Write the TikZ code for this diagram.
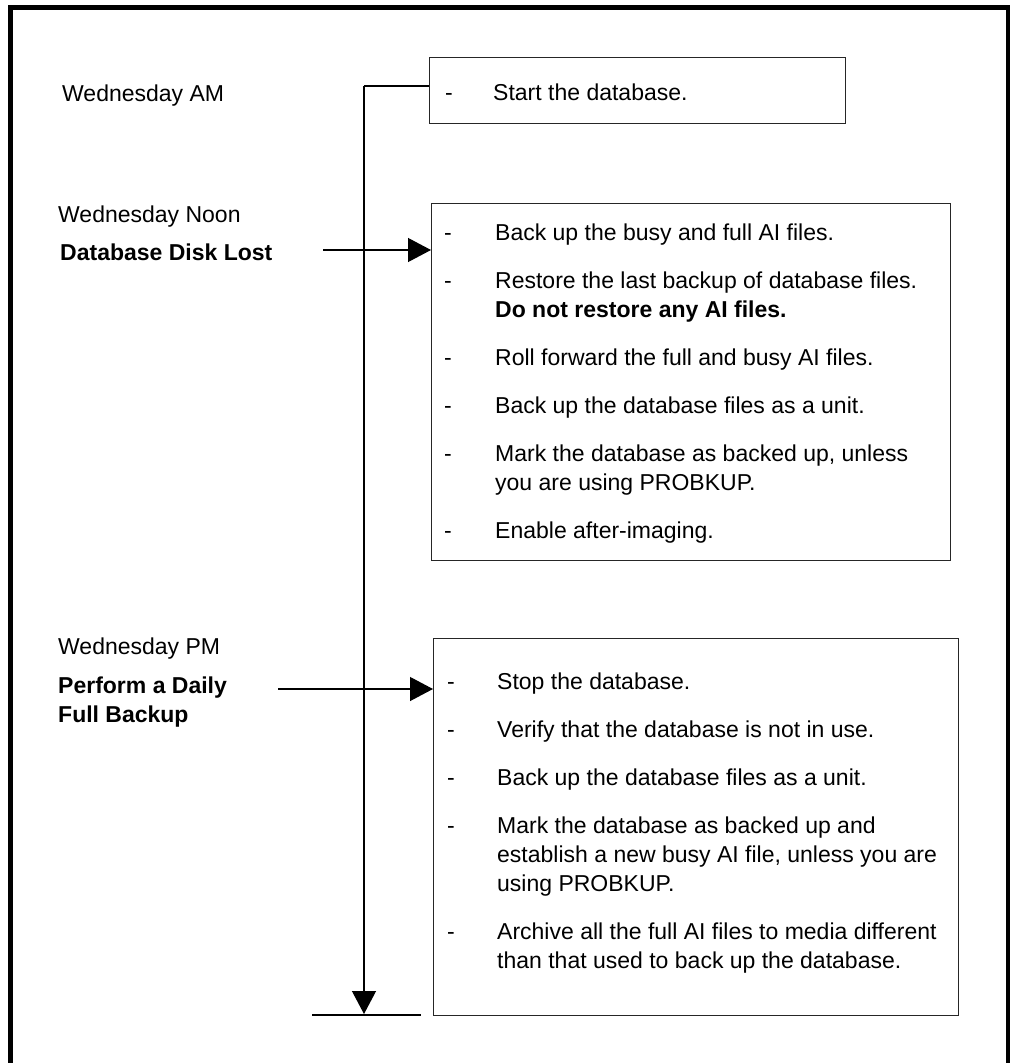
\documentclass[tikz,border=0pt]{standalone}
\usepackage{fontspec}
\setmainfont{Liberation Sans}
\usetikzlibrary{arrows.meta}
\begin{document}
\begin{tikzpicture}[x=1pt,y=-1pt,
  txt/.style={font=\fontsize{23}{29}\selectfont, anchor=base west, inner sep=0pt},
  stepbox/.style={draw=black!85, line width=1.4pt, anchor=north west, inner sep=0pt},
  conn/.style={line width=1.2pt},
  tip/.style={-{Triangle[length=23pt,width=24pt]}}
]
\useasboundingbox (0,0) rectangle (1014,1063);
% outer frame, open past the bottom edge
\draw[line width=4.5pt] (10.5,1080) -- (10.5,7.5) -- (1008,7.5) -- (1008,1080);

% step boxes
\node[stepbox, minimum width=416pt, minimum height=66pt] (box1) at (429,57) {};
\node[stepbox, minimum width=519pt, minimum height=357pt] (box2) at (431,203) {};
\node[stepbox, minimum width=525pt, minimum height=377pt] (box3) at (433,638) {};

% time labels
\node[txt] (tAM) at (62,101) {Wednesday AM};
\node[txt] (tNoon) at (58,222) {Wednesday Noon};
\node[txt] (eNoon) at (60,260.5) {\bfseries Database Disk Lost};
\node[txt] (tPM) at (58,654) {Wednesday PM};
\node[txt] (ePM1) at (58,693) {\bfseries Perform a Daily};
\node[txt] (ePM2) at (58,722) {\bfseries Full Backup};

% box 1
\node[txt] (d10) at (445,100) {-};
\node[txt] (s10) at (493,100) {Start the database.};

% box 2
\node[txt] (d21) at (444,240) {-};
\node[txt] (s21) at (495,240) {Back up the busy and full AI files.};
\node[txt] (d22) at (444,288) {-};
\node[txt] (s22) at (495,288) {Restore the last backup of database files.};
\node[txt] (s22b) at (495,317) {\bfseries Do not restore any AI files.};
\node[txt] (d23) at (444,365) {-};
\node[txt] (s23) at (495,365) {Roll forward the full and busy AI files.};
\node[txt] (d24) at (444,413) {-};
\node[txt] (s24) at (495,413) {Back up the database files as a unit.};
\node[txt] (d25) at (444,461) {-};
\node[txt] (s25) at (495,461) {Mark the database as backed up, unless};
\node[txt] (s25b) at (495,490) {you are using PROBKUP.};
\node[txt] (d26) at (444,538) {-};
\node[txt] (s26) at (495,538) {Enable after-imaging.};

% box 3
\node[txt] (d31) at (447,689) {-};
\node[txt] (s31) at (497,689) {Stop the database.};
\node[txt] (d32) at (447,737) {-};
\node[txt] (s32) at (497,737) {Verify that the database is not in use.};
\node[txt] (d33) at (447,785) {-};
\node[txt] (s33) at (497,785) {Back up the database files as a unit.};
\node[txt] (d34) at (447,833) {-};
\node[txt] (s34) at (497,833) {Mark the database as backed up and};
\node[txt] (s34b) at (497,862) {establish a new busy AI file, unless you are};
\node[txt] (s34c) at (497,891) {using PROBKUP.};
\node[txt] (d35) at (447,939) {-};
\node[txt] (s35) at (497,939) {Archive all the full AI files to media different};
\node[txt] (s35b) at (497,968) {than that used to back up the database.};

% timeline and its links to the boxes
\coordinate (top) at (364,86);
\coordinate (bot) at (364,1014);
\coordinate (a1s) at (323,250);
\coordinate (a2s) at (278,689);
\coordinate (endl) at (312,1015);
\coordinate (endr) at (421,1015);
\draw[conn] (box1.west |- top) -- (top);
\draw[conn, tip] (top) -- (bot);
\draw[conn, tip] (a1s) -- (box2.west |- a1s);
\draw[conn, tip] (a2s) -- (box3.west |- a2s);
\draw[conn] (endl) -- (endr);
\end{tikzpicture}
\end{document}
